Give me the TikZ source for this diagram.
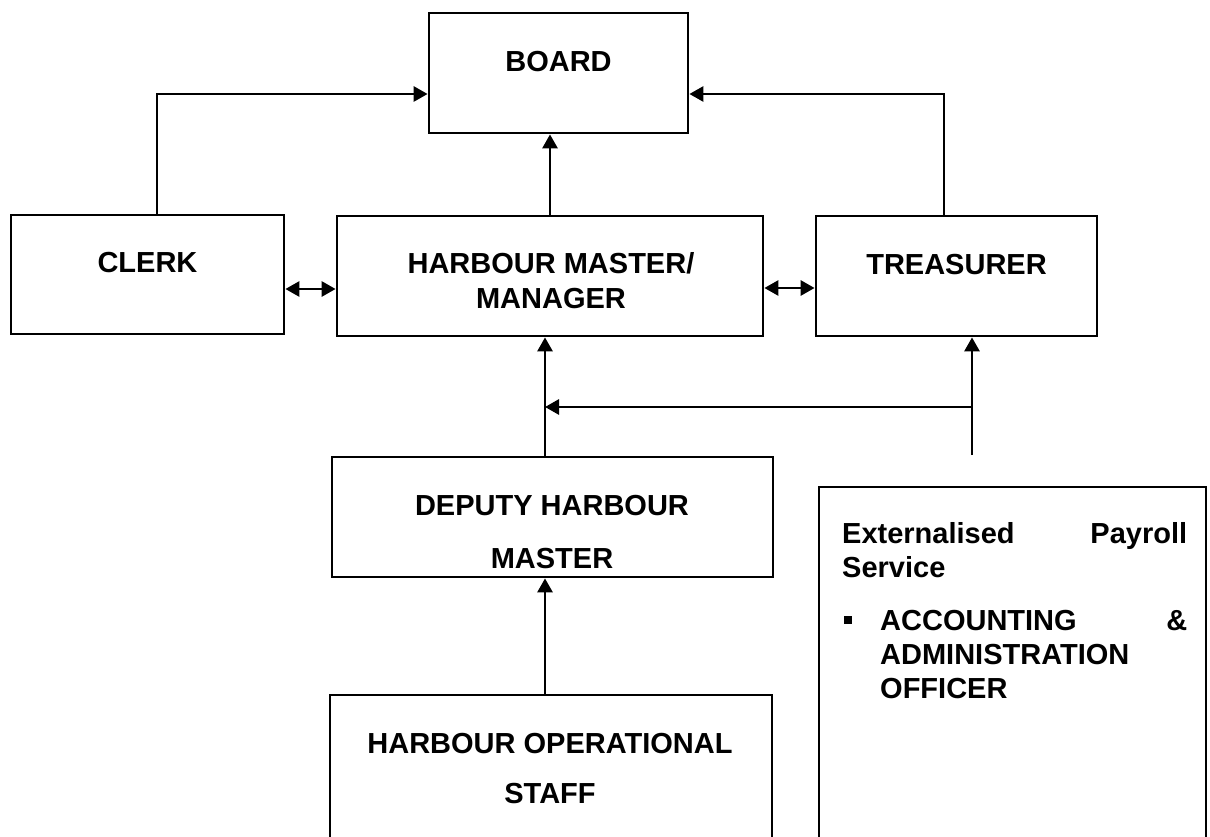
\documentclass[tikz,border=0pt]{standalone}
\usepackage{fontspec}
\setmainfont{Liberation Sans}
\usetikzlibrary{arrows.meta}
\tikzset{
  x=1pt, y=-1pt,
  box/.style={draw, line width=2.8pt, inner sep=0pt},
  txt/.style={inner sep=0pt, font=\bfseries\fontsize{29}{35}\selectfont},
  arr/.style={line width=2.8pt, -{Triangle[length=14pt,width=15pt]}},
  darr/.style={line width=2.8pt, {Triangle[length=14pt,width=15pt]}-{Triangle[length=14pt,width=15pt]}},
}
\begin{document}
\begin{tikzpicture}
\useasboundingbox (0,0) rectangle (1210,837);
\clip (0,0) rectangle (1210,837);
% boxes
\node[box, minimum width=259pt, minimum height=120pt] (board) at (558.5,73) {};
\node[box, minimum width=273pt, minimum height=119pt] (clerk) at (147.5,274.5) {};
\node[box, minimum width=426pt, minimum height=120pt] (hm) at (550,276) {};
\node[box, minimum width=281pt, minimum height=120pt] (treas) at (956.5,276) {};
\node[box, minimum width=441pt, minimum height=120pt] (dep) at (552.5,517) {};
\node[box, minimum width=442pt, minimum height=180pt] (hos) at (551,785) {};
\node[box, minimum width=387pt, minimum height=400pt] (pay) at (1012.5,687) {};
% texts
\node[txt, anchor=base] (tboard) at (558.5,72) {BOARD};
\node[txt, anchor=base] (tclerk) at (147.5,272) {CLERK};
\node[txt, anchor=base] (thm1) at (551,273) {HARBOUR MASTER/};
\node[txt, anchor=base] (thm2) at (551,308) {MANAGER};
\node[txt, anchor=base] (ttreas) at (956.5,274) {TREASURER};
\node[txt, anchor=base] (tdep1) at (552,515) {DEPUTY HARBOUR};
\node[txt, anchor=base] (tdep2) at (552,568) {MASTER};
\node[txt, anchor=base] (thos1) at (550,753) {HARBOUR OPERATIONAL};
\node[txt, anchor=base] (thos2) at (550,803) {STAFF};
\node[txt, anchor=base west] (pay1) at (842,543) {\hbox to 345pt{Externalised\hfill Payroll}};
\node[txt, anchor=base west] (pay2) at (842,577) {Service};
\node[fill=black, inner sep=0pt, minimum size=8pt] (bul) at (848,620) {};
\node[txt, anchor=base west] (pay3) at (880,630) {\hbox to 307pt{ACCOUNTING\hfill\&}};
\node[txt, anchor=base west] (pay4) at (880,664) {ADMINISTRATION};
\node[txt, anchor=base west] (pay5) at (880,698) {OFFICER};
% helper coordinates
\coordinate (jl) at (157,94);
\coordinate (jr) at (944,94);
\coordinate (dl) at (0,289);
\coordinate (dr) at (0,288);
\coordinate (dx) at (545,0);
\coordinate (tend) at (972,455);
\coordinate (tj) at (972,407);
% connectors
\draw[arr] (clerk.north -| jl) -- (jl) -- (board.west |- jl);
\draw[arr] (treas.north -| jr) -- (jr) -- (board.east |- jr);
\draw[arr] (hm.north) -- (board.south -| hm.north);
\draw[darr] (clerk.east |- dl) -- (hm.west |- dl);
\draw[darr] (hm.east |- dr) -- (treas.west |- dr);
\draw[arr] (dep.north -| dx) -- (hm.south -| dx);
\draw[arr] (tend) -- (treas.south -| tend);
\draw[arr] (tj) -- (dx |- tj);
\draw[arr] (hos.north -| dx) -- (dep.south -| dx);
\end{tikzpicture}
\end{document}
